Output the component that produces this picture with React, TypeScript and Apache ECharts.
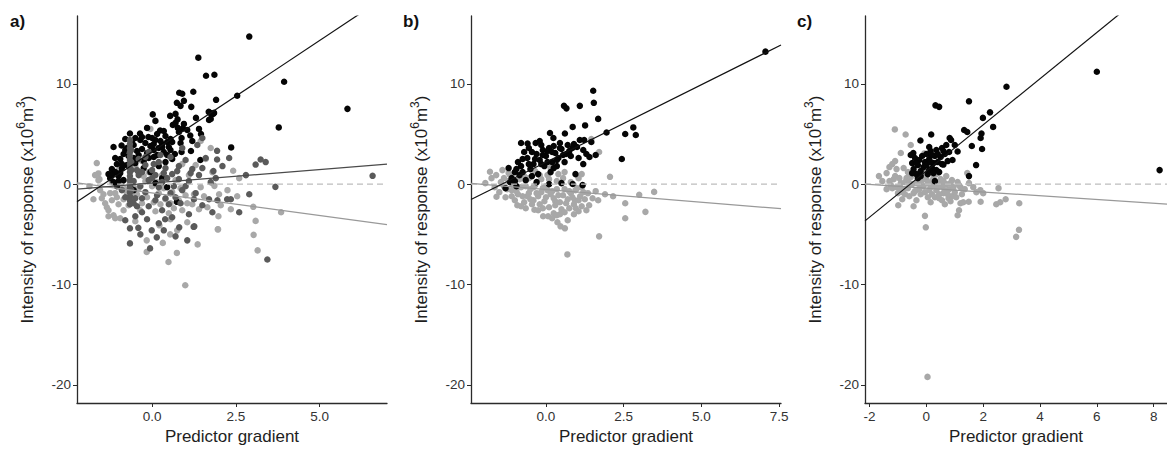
import React, { useEffect, useRef } from "react";
import * as echarts from "echarts";

const FONT = '"Liberation Sans", Arial, Helvetica, sans-serif';

// ---------- Panel a ----------
const aBlack: number[][] = [
  [2.90,14.7],[1.38,12.6],[1.61,10.8],[1.86,10.9],[3.94,10.2],[2.54,8.8],[1.91,8.4],[5.83,7.5],[3.78,5.65],[2.36,3.66],
  [0.81,9.1],[0.90,9.0],[1.23,9.2],[0.74,8.1],[0.85,7.8],[1.17,7.7],[0.02,6.95],[0.10,6.3],[0.54,6.8],[0.76,6.45],
  [1.31,6.6],[1.70,6.4],[1.82,7.0],[1.69,7.2],[0.77,5.6],[0.92,5.55],[0.24,5.35],[0.88,4.6],[1.14,4.85],[1.46,5.0],
  [0.88,3.2],[1.44,2.4],[1.16,3.3],[0.74,-1.76],[0.62,5.9],[0.70,6.1],[0.95,6.0],[0.80,5.2],
  [-0.66,5.05],[-0.36,5.05],[-0.11,4.7],[-0.5,4.6],[-0.8,4.5],[-0.2,4.1],[0.1,4.4],[0.3,4.0],[0.45,4.2],[0.2,3.6],
  [-0.05,3.8],[-0.3,3.5],[-0.55,3.9],[-1.15,3.7],[-0.91,3.85],[-0.85,3.0],[-0.95,2.5],[-1.05,2.0],[-0.7,2.8],[-0.4,2.9],
  [-0.15,3.1],[0.05,2.7],[0.35,3.2],[0.55,3.4],[0.6,2.5],[0.4,2.2],[-0.25,2.3],[-0.5,2.1],[-1.2,1.5],[-1.3,1.0],
  [-1.25,0.6],[-1.1,1.2],[-1.0,0.8],[-0.9,1.6],[-1.15,0.2],[-1.05,-0.2],[-0.85,0.4],[-0.75,1.9],[0.15,5.0],[0.4,4.8],
  [-0.15,5.6],[0.5,3.7],[0.68,3.0],[0.2,1.8],[-0.05,1.2],[0.3,0.6],[0.45,-0.3],[0.1,0.1],[-0.65,-0.3],[-0.55,-0.6],
  [0.0,4.6],[0.25,4.3],[1.73,7.1],[1.85,7.1],[1.75,6.5],
  [-1.2,0.9],[-1.0,0.3],[-0.9,2.0],[-0.8,3.4],[-0.6,4.2],[-0.45,3.3],[-0.35,4.4],[-0.25,1.6],[-0.1,2.6],[0.05,3.4],
  [0.15,2.9],[0.3,3.7],[0.45,2.9],[0.55,4.5],[0.35,5.3],[-0.4,1.2],[-0.75,3.6],[-1.1,2.6],[-0.95,1.1],[-0.55,2.6],
  [0.05,4.0],[-0.3,4.7],[0.6,4.2],[0.85,4.1],[1.05,5.4],[1.2,4.3],[0.7,7.0],[0.95,8.3],[1.4,5.5]
];
const aDark: number[][] = [
  [-0.66,4.4],[-0.66,4.0],[-0.66,3.6],[-0.66,3.2],[-0.66,2.8],[-0.66,2.4],[-0.66,2.0],[-0.66,1.6],[-0.66,1.2],
  [-0.66,0.8],[-0.66,0.4],[-0.66,0.0],[-0.66,-0.4],[-0.66,-0.8],[-0.66,-1.2],[-0.66,-1.6],[-0.66,-2.0],
  [-0.62,3.4],[-0.62,1.4],[-0.62,-0.6],[-0.62,2.2],
  [6.58,0.83],[3.68,-0.27],[3.39,2.2],[3.24,2.45],[3.09,1.95],[1.94,3.32],[1.94,2.46],[1.83,1.3],[2.24,-1.5],[3.44,-7.5],
  [-0.66,-4.4],[-0.41,-4.35],[-0.66,-5.9],[-0.01,-4.6],[0.14,-5.3],[-0.06,-6.4],[0.39,-3.5],[0.81,-4.3],[1.26,-4.2],
  [-0.4,2.5],[-0.2,1.9],[0.0,1.4],[0.2,2.2],[0.4,1.6],[0.6,1.0],[0.8,1.8],[1.0,2.4],[1.2,1.5],[1.4,0.9],
  [1.6,2.6],[1.1,0.3],[0.9,-0.6],[0.7,-1.3],[0.5,-2.0],[0.3,-2.6],[0.1,-1.6],[-0.1,-2.2],[-0.3,-2.8],[-0.5,-3.2],
  [-0.2,-0.8],[0.0,0.6],[0.3,0.2],[-0.4,0.9],[-0.3,-1.4],[1.3,-0.9],[1.5,-2.1],[1.7,-1.5],[1.1,-3.0],[0.6,-3.3],
  [0.2,-3.9],[-0.45,-2.2],[-0.1,3.2],[0.25,2.9],[0.55,2.7],[0.9,3.6],[1.35,3.9],[1.5,4.6],[0.65,-0.2],[1.9,0.6],
  [2.1,1.8],[2.6,-2.8],[1.24,-4.25],[1.8,-2.8],[-0.8,-1.3],[-0.9,-0.6],[-0.55,0.3],[-0.45,1.4],[2.35,-1.5],[1.95,-1.6],
  [-0.3,1.2],[-0.1,0.4],[0.1,0.9],[0.2,-0.3],[0.45,0.6],[0.55,-0.9],[0.8,0.5],[1.0,-0.2],[-0.2,2.7],[0.05,2.0],
  [0.35,1.1],[0.75,1.3],[1.15,1.1],[-0.5,-1.4],[-0.35,-0.2],[0.15,-1.1],[0.4,-1.4],[0.85,-1.9],[1.25,-1.5],[-0.15,-3.5],
  [0.35,-4.6],[0.7,-5.2],[-0.35,-5.0],[1.05,-5.6],[1.5,1.6],[1.75,0.2],[2.3,2.6],[2.8,0.9],[2.9,-1.0],[-0.8,-3.6],[-0.55,-1.9]
];
const aLight: number[][] = [
  [-1.65,2.1],[-1.87,-0.2],[-1.57,0.5],[-1.6,1.07],[-1.6,0.4],[-1.75,-1.5],[-1.5,-1.4],[-1.35,-2.3],[-1.15,-3.1],[-1.1,-3.4],
  [-1.3,-2.6],[-1.45,-1.0],[-1.2,-1.6],[-1.0,-2.0],[-0.85,-2.6],[-0.5,-3.7],[-0.16,-5.6],[0.32,-5.85],[0.74,-6.85],[0.49,-7.75],
  [0.99,-10.07],[1.36,-6.0],[-0.16,-6.75],[0.22,-4.1],[0.54,-5.0],[1.96,-4.5],[1.86,-0.17],[2.42,1.33],[2.54,-1.2],[2.05,-2.1],
  [2.35,-2.5],[1.98,-3.2],[1.97,-4.5],[3.02,-2.26],[3.09,-3.66],[3.03,-5.05],[3.15,-6.6],[3.85,-2.8],
  [-0.9,0.2],[-0.8,-0.5],[-0.6,-1.2],[-0.4,-0.4],[-0.2,0.3],[0.0,-0.2],[0.2,-0.9],[0.4,-1.5],[0.6,-0.8],[0.8,-1.6],
  [1.0,-1.1],[1.2,-2.0],[1.4,-2.5],[0.9,-2.6],[0.5,-2.9],[0.1,-2.7],[-0.3,-1.9],[-0.7,-2.1],[-0.1,1.2],[0.3,0.9],
  [0.7,0.4],[1.1,0.9],[1.3,1.9],[1.6,2.5],[1.75,3.6],[1.45,4.3],[0.9,2.0],[-0.5,1.8],[-0.3,2.3],[-0.05,5.5],
  [-0.25,0.8],[-1.0,1.4],[-1.1,-0.9],[0.55,-3.5],[1.55,-1.2],[2.0,-1.0],[1.05,-3.8],[0.75,-4.6],
  [-1.7,0.9],[-1.55,-0.6],[-1.4,-1.9],[-1.25,-0.9],[-1.05,-1.3],[-0.95,-0.3],[-0.85,-1.5],[-0.75,-0.9],[-0.55,-0.3],[-0.45,-1.0],
  [-0.35,-2.6],[-0.15,-1.3],[0.05,-1.8],[0.25,-2.0],[0.35,-0.4],[0.55,-1.9],[0.65,-2.4],[0.85,-0.4],[1.05,-1.9],[1.25,-1.0],
  [1.45,-0.3],[-1.3,-3.2],[-0.95,-3.4],[-1.2,0.2],[-0.1,0.4],[0.15,0.2],[1.65,-2.3],[1.8,1.2],[2.25,-0.6],[2.6,0.6]
];
// regression lines: [intercept, slope]
const aFitBlack = [3.21, 2.22];
const aFitDark = [0.105, 0.27];
const aFitLight = [-0.876, -0.449];

// ---------- Panel b ----------
const bBlack: number[][] = [
  [7.06,13.2],[1.52,9.3],[1.54,8.1],[0.58,7.8],[0.66,7.55],[1.09,7.8],[1.68,6.5],[2.81,5.65],[2.89,4.9],[2.55,5.0],
  [0.86,5.7],[1.26,5.85],[1.95,5.15],[2.44,2.5],[0.61,5.05],[0.13,5.1],[-0.8,4.1],[-0.59,4.05],[-0.33,4.1],[-0.2,4.3],
  [0.24,4.6],[1.09,4.4],[1.23,4.4],[1.46,4.2],[1.2,3.4],[1.4,2.7],[1.6,2.9],[1.2,2.0],[0.86,0.02],[1.18,-0.1],[0.5,0.1],
  [-1.2,1.6],[-1.3,-0.4],[-1.1,0.6],[-1.0,1.2],[-0.9,2.2],[-0.8,1.8],[-0.7,3.2],[-0.6,2.6],[-0.5,1.5],[-0.4,2.0],
  [-0.3,3.0],[-0.2,2.4],[-0.1,3.4],[0.0,2.8],[0.1,3.6],[0.2,2.2],[0.3,3.1],[0.4,2.6],[0.5,3.5],[0.6,2.2],
  [0.7,3.9],[0.8,2.8],[0.9,4.0],[0.35,1.8],[0.15,1.2],[-0.05,1.8],[-0.25,1.0],[-0.45,0.8],[-0.65,0.4],[-0.85,0.9],
  [-0.95,-0.2],[-0.3,0.2],[0.1,0.0],[-0.15,3.9],[0.05,3.3],[0.25,3.8],[0.45,4.1],[-0.55,3.6],[-0.75,2.5],[0.65,3.0],
  [1.0,3.7],[0.95,1.0],
  [-1.15,0.2],[-0.95,1.5],[-0.75,1.2],[-0.55,2.0],[-0.35,2.5],[-0.15,2.0],[0.05,2.2],[0.2,3.2],[0.35,2.4],[0.55,2.9],
  [0.75,3.3],[0.25,1.6],[-0.1,2.9],[0.45,3.6],[0.85,3.6],[-0.45,3.2],[-1.0,0.3],[1.05,2.6],[1.3,3.0]
];
const bLight: number[][] = [
  [0.69,-7.0],[1.71,-5.2],[2.55,-3.4],[3.2,-2.76],[2.55,-1.9],[3.0,-1.06],[3.48,-0.77],[2.06,0.73],[2.16,-1.2],[1.9,-1.0],
  [1.6,-0.7],[1.68,-1.6],[1.71,3.2],[1.46,4.5],[0.61,-4.4],[0.47,-4.2],[0.37,-3.8],[-0.09,-3.2],[0.07,-3.2],[-0.37,-2.55],
  [-0.92,-2.1],[-1.59,-1.26],[-1.8,1.23],[-1.95,0.1],[0.96,-2.4],[1.15,-2.2],[1.39,-2.1],[0.93,-1.6],[1.15,1.0],
  [-1.6,0.9],[-1.4,1.4],[-1.5,-0.8],[-1.3,-1.3],[-1.2,0.3],[-1.1,-0.6],[-1.0,-1.6],[-0.9,-1.0],[-0.8,-0.3],[-0.7,-1.8],
  [-0.6,-1.2],[-0.5,-0.5],[-0.4,-1.6],[-0.3,-0.9],[-0.2,-2.0],[-0.1,-0.4],[0.0,-1.3],[0.1,-2.3],[0.2,-0.7],[0.3,-1.7],
  [0.4,-1.1],[0.5,-2.5],[0.6,-0.5],[0.7,-1.5],[0.8,-0.9],[0.9,-2.0],[1.0,-0.4],[1.1,-1.2],[1.2,-0.8],[0.25,-2.9],
  [-0.15,0.5],[0.35,0.3],[-0.55,0.6],[-0.35,1.3],[0.05,0.9],[0.55,0.6],[-1.35,0.6],[-0.75,1.1],[0.15,1.6],[0.8,0.2],
  [-0.25,-2.6],[0.45,-3.0],[0.75,-2.4],[1.05,-2.7],[-0.65,-2.4],
  [-1.45,0.2],[-1.25,-0.5],[-1.15,0.9],[-1.05,0.1],[-0.95,-0.7],[-0.85,0.5],[-0.75,-1.2],[-0.65,-0.2],[-0.55,-0.9],[-0.45,-2.0],
  [-0.35,-0.1],[-0.25,-1.2],[-0.15,-0.8],[-0.05,-1.7],[0.05,-0.6],[0.15,-1.0],[0.25,-1.4],[0.35,-0.5],[0.45,-1.8],[0.55,-1.1],
  [0.65,-1.9],[0.75,-0.7],[0.85,-1.3],[0.95,-0.6],[1.05,-1.6],[1.15,-0.3],[1.25,-1.5],[-0.4,-0.3],[0.0,-0.2],[0.3,-2.1],
  [-0.1,-2.4],[0.6,-2.8],[0.2,-3.4],[-0.5,-1.5],[-1.1,-1.2],[-1.35,-0.2],[-0.8,-2.2],[0.9,-3.0],[1.35,-0.9],[1.5,-1.4],
  [0.7,-3.6],[0.35,-3.1],[-0.2,0.9],[0.4,1.0],[-0.7,0.8],[-1.2,1.1],[-1.75,0.6],[-1.65,-0.3],[0.1,0.5],[0.6,1.2],
  [1.05,0.6],[1.3,-2.6]
];
const bFitBlack = [2.19, 1.544];
const bFitLight = [-0.537, -0.252];

// ---------- Panel c ----------
const cBlack: number[][] = [
  [6.0,11.2],[8.21,1.4],[2.82,9.7],[1.5,8.25],[0.32,7.85],[0.45,7.7],[2.24,7.15],[1.99,6.6],[2.35,5.7],[1.33,5.4],
  [1.44,5.2],[1.94,5.05],[1.91,4.6],[0.82,4.6],[0.87,4.4],[0.17,4.95],[-0.21,4.35],[1.6,3.8],[1.96,3.5],[1.1,3.25],
  [1.75,1.9],[0.92,2.4],[0.6,1.95],[1.5,0.8],[-0.46,3.1],
  [-0.5,2.1],[-0.45,1.5],[-0.4,2.6],[-0.35,1.0],[-0.3,1.9],[-0.25,2.4],[-0.2,1.3],[-0.15,2.8],[-0.1,1.7],[-0.05,2.2],
  [0.0,3.0],[0.05,1.0],[0.1,2.5],[0.15,3.3],[0.2,1.6],[0.25,2.1],[0.3,2.8],[0.35,3.4],[0.4,2.2],[0.45,1.2],
  [0.5,2.7],[0.55,3.6],[0.65,3.0],[0.7,3.9],[0.35,1.4],[-0.3,0.6],[0.3,0.3],[-0.55,2.9],[0.1,3.7],[0.75,2.3],
  [-0.5,1.1],[-0.2,0.8],[0.1,1.4],[0.2,2.9],[0.4,3.0],[0.55,2.0],[0.25,1.1],[-0.35,2.1],[0.0,1.9],[0.15,2.2],
  [0.6,3.3],[0.8,3.2],[1.0,3.9]
];
const cLight: number[][] = [
  [0.04,-19.2],[3.16,-5.25],[3.26,-4.55],[-0.02,-4.3],[-0.05,-3.16],[1.15,-2.6],[1.1,-3.1],[-0.99,-2.1],[-1.11,5.45],[-0.73,4.95],
  [-0.9,3.1],[-1.67,0.8],[-1.1,2.3],[-1.4,1.1],[3.27,-1.9],[2.79,-1.5],[2.6,-1.8],[2.46,-2.0],[2.54,-0.4],[1.91,-1.75],
  [1.49,-1.75],[1.3,-1.8],[2.0,-0.9],[1.76,-0.8],[0.78,-1.4],[0.9,-1.2],[1.44,1.1],[1.5,0.1],[1.1,0.2],[-0.07,3.06],
  [0.0,0.5],[0.0,1.0],[0.0,1.5],[-0.03,2.0],
  [-1.3,0.3],[-1.2,-0.4],[-1.1,0.8],[-1.0,-0.9],[-0.9,0.1],[-0.8,-0.5],[-0.7,0.6],[-0.6,-1.2],[-0.5,0.0],[-0.4,-0.7],
  [-0.3,0.4],[-0.2,-1.0],[-0.1,-0.2],[0.1,-0.6],[0.2,0.3],[0.3,-1.3],[0.4,-0.3],[0.5,0.5],[0.6,-0.9],[0.7,0.0],
  [0.8,-0.5],[0.9,0.4],[1.0,-0.8],[1.2,-0.3],[-0.35,-1.6],[0.15,-1.8],[0.55,-1.6],[-0.65,1.2],[-0.15,1.1],[0.35,1.0],
  [-1.05,1.5],[-0.45,-2.2],[0.65,-2.0],[-0.85,-1.5],[0.25,-0.1],[-0.25,0.0],[0.45,0.1],
  [-1.25,-0.1],[-1.15,0.5],[-1.05,-0.3],[-0.95,0.6],[-0.85,-0.8],[-0.75,0.2],[-0.65,-0.4],[-0.55,0.7],[-0.45,-0.9],[-0.35,0.1],
  [-0.25,-0.5],[-0.15,0.4],[-0.05,-0.8],[0.05,0.1],[0.15,-0.3],[0.25,0.6],[0.35,-0.6],[0.45,-1.0],[0.55,-0.2],[0.65,-0.6],
  [0.75,-1.0],[0.85,0.1],[0.95,-0.3],[1.05,-1.3],[1.15,-0.1],[1.25,-1.0],[1.35,-0.5],[-0.6,0.1],[-0.2,0.7],[0.2,-1.0],
  [0.6,0.3],[-0.9,-0.4],[-1.4,-0.5],[-1.55,0.3],[-0.75,-1.0],[0.05,-1.3],[0.45,-1.4],[0.85,-1.7],[1.2,-1.9],[-0.4,1.0],
  [0.7,0.8],[1.65,-0.3],[1.9,-0.6],[-1.2,2.0],[-0.8,1.6],[-0.55,3.9],[-1.3,1.7]
];
const cFitBlack = [1.31, 2.30];
const cFitLight = [-0.405, -0.188];

// axes
const yRange = [-21.8, 16.75];
const yTicks = [-20, -10, 0, 10];
const xRanges = [[-2.24, 7.01], [-2.41, 7.56], [-2.16, 8.47]];
const xTicks = [[0, 2.5, 5.0], [0, 2.5, 5.0, 7.5], [-2, 0, 2, 4, 6, 8]];
const panelLabels = ["a)", "b)", "c)"];
const xTitle = "Predictor gradient";

const COL_BLACK = "#050505";
const COL_DARK = "#5a5a5a";
const COL_LIGHT = "#a8a8a8";
const AXIS_COL = "#2b2b2b";

const grids = [
  { left: 77, top: 16, width: 310, height: 387 },
  { left: 471, top: 16, width: 310, height: 387 },
  { left: 865, top: 16, width: 302, height: 387 },
];

function fitLine(fit: number[], range: number[]) {
  return [range[0], range[1]].map((x) => [x, fit[0] + fit[1] * x]);
}

export default function App() {
  const ref = useRef<HTMLDivElement>(null);
  useEffect(() => {
    if (!ref.current) return;
    const chart = echarts.init(ref.current, undefined, { renderer: "svg" });

    const xAxis = xRanges.map((r, i) => ({
      type: "value",
      gridIndex: i,
      min: r[0],
      max: r[1],
      name: xTitle,
      nameLocation: "middle",
      nameGap: 20,
      nameTextStyle: { fontSize: 17, color: "#1e1e1e", fontFamily: FONT },
      axisLine: { show: true, onZero: false, lineStyle: { color: AXIS_COL, width: 1.3 } },
      axisTick: { show: true, length: 4, customValues: xTicks[i], lineStyle: { color: AXIS_COL, width: 1 } },
      axisLabel: {
        customValues: xTicks[i],
        formatter: (v: number) => (i === 2 ? String(v) : v.toFixed(1)),
        fontSize: 13.5,
        color: "#333",
        fontFamily: FONT,
        margin: 6,
      },
      splitLine: { show: false },
    }));

    const yAxis = [0, 1, 2].map((i) => ({
      type: "value",
      gridIndex: i,
      min: yRange[0],
      max: yRange[1],
      name: "Intensity of response (x10{sup|6}m{sup|3})",
      nameLocation: "middle",
      nameRotate: 90,
      nameGap: 38,
      nameTextStyle: {
        fontSize: 17,
        color: "#1e1e1e",
        fontFamily: FONT,
        lineHeight: 24,
        rich: {
          sup: { fontSize: 12, fontFamily: FONT, color: "#1e1e1e", verticalAlign: "top" },
        },
      },
      axisLine: { show: true, onZero: false, lineStyle: { color: AXIS_COL, width: 1.3 } },
      axisTick: { show: true, length: 4, customValues: yTicks, lineStyle: { color: AXIS_COL, width: 1 } },
      axisLabel: { customValues: yTicks, fontSize: 13.5, color: "#333", fontFamily: FONT, margin: 6 },
      splitLine: { show: false },
    }));

    const scatter = (data: number[][], color: string, i: number) => ({
      type: "scatter",
      xAxisIndex: i,
      yAxisIndex: i,
      data,
      symbolSize: 6.5,
      itemStyle: { color, opacity: 1 },
      silent: true,
    });
    const line = (data: number[][], color: string, i: number, dashed = false, width = 1.2) => ({
      type: "line",
      xAxisIndex: i,
      yAxisIndex: i,
      data,
      showSymbol: false,
      symbol: "none",
      clip: true,
      lineStyle: { color, width, type: dashed ? [6, 4] : "solid" },
      silent: true,
      z: 5,
    });

    const series: any[] = [];
    // panel a
    series.push(scatter(aLight, COL_LIGHT, 0));
    series.push(scatter(aBlack, COL_BLACK, 0));
    series.push(scatter(aDark, COL_DARK, 0));
    series.push(line([[xRanges[0][0], 0], [xRanges[0][1], 0]], "#bdbdbd", 0, true));
    series.push(line(fitLine(aFitLight, xRanges[0]), "#999999", 0));
    series.push(line(fitLine(aFitDark, xRanges[0]), "#4a4a4a", 0));
    series.push(line(fitLine(aFitBlack, xRanges[0]), "#111111", 0));
    // panel b
    series.push(scatter(bLight, COL_LIGHT, 1));
    series.push(scatter(bBlack, COL_BLACK, 1));
    series.push(line([[xRanges[1][0], 0], [xRanges[1][1], 0]], "#bdbdbd", 1, true));
    series.push(line(fitLine(bFitLight, xRanges[1]), "#999999", 1));
    series.push(line(fitLine(bFitBlack, xRanges[1]), "#111111", 1));
    // panel c
    series.push(scatter(cLight, COL_LIGHT, 2));
    series.push(scatter(cBlack, COL_BLACK, 2));
    series.push(line([[xRanges[2][0], 0], [xRanges[2][1], 0]], "#bdbdbd", 2, true));
    series.push(line(fitLine(cFitLight, xRanges[2]), "#999999", 2));
    series.push(line(fitLine(cFitBlack, xRanges[2]), "#111111", 2));

    const labelX = [10, 403, 797];
    chart.setOption({
      animation: false,
      backgroundColor: "#ffffff",
      grid: grids.map((g) => ({ ...g, containLabel: false })),
      xAxis,
      yAxis,
      series,
      graphic: panelLabels.map((t, i) => ({
        type: "text",
        left: labelX[i],
        top: 13,
        style: { text: t, fontSize: 17, fontWeight: "bold", fontFamily: FONT, fill: "#111" },
      })),
    });
    return () => chart.dispose();
  }, []);

  return (
    <div
      ref={ref}
      style={{ position: "fixed", left: 0, top: 0, width: 1167, height: 450, background: "#fff" }}
    />
  );
}
